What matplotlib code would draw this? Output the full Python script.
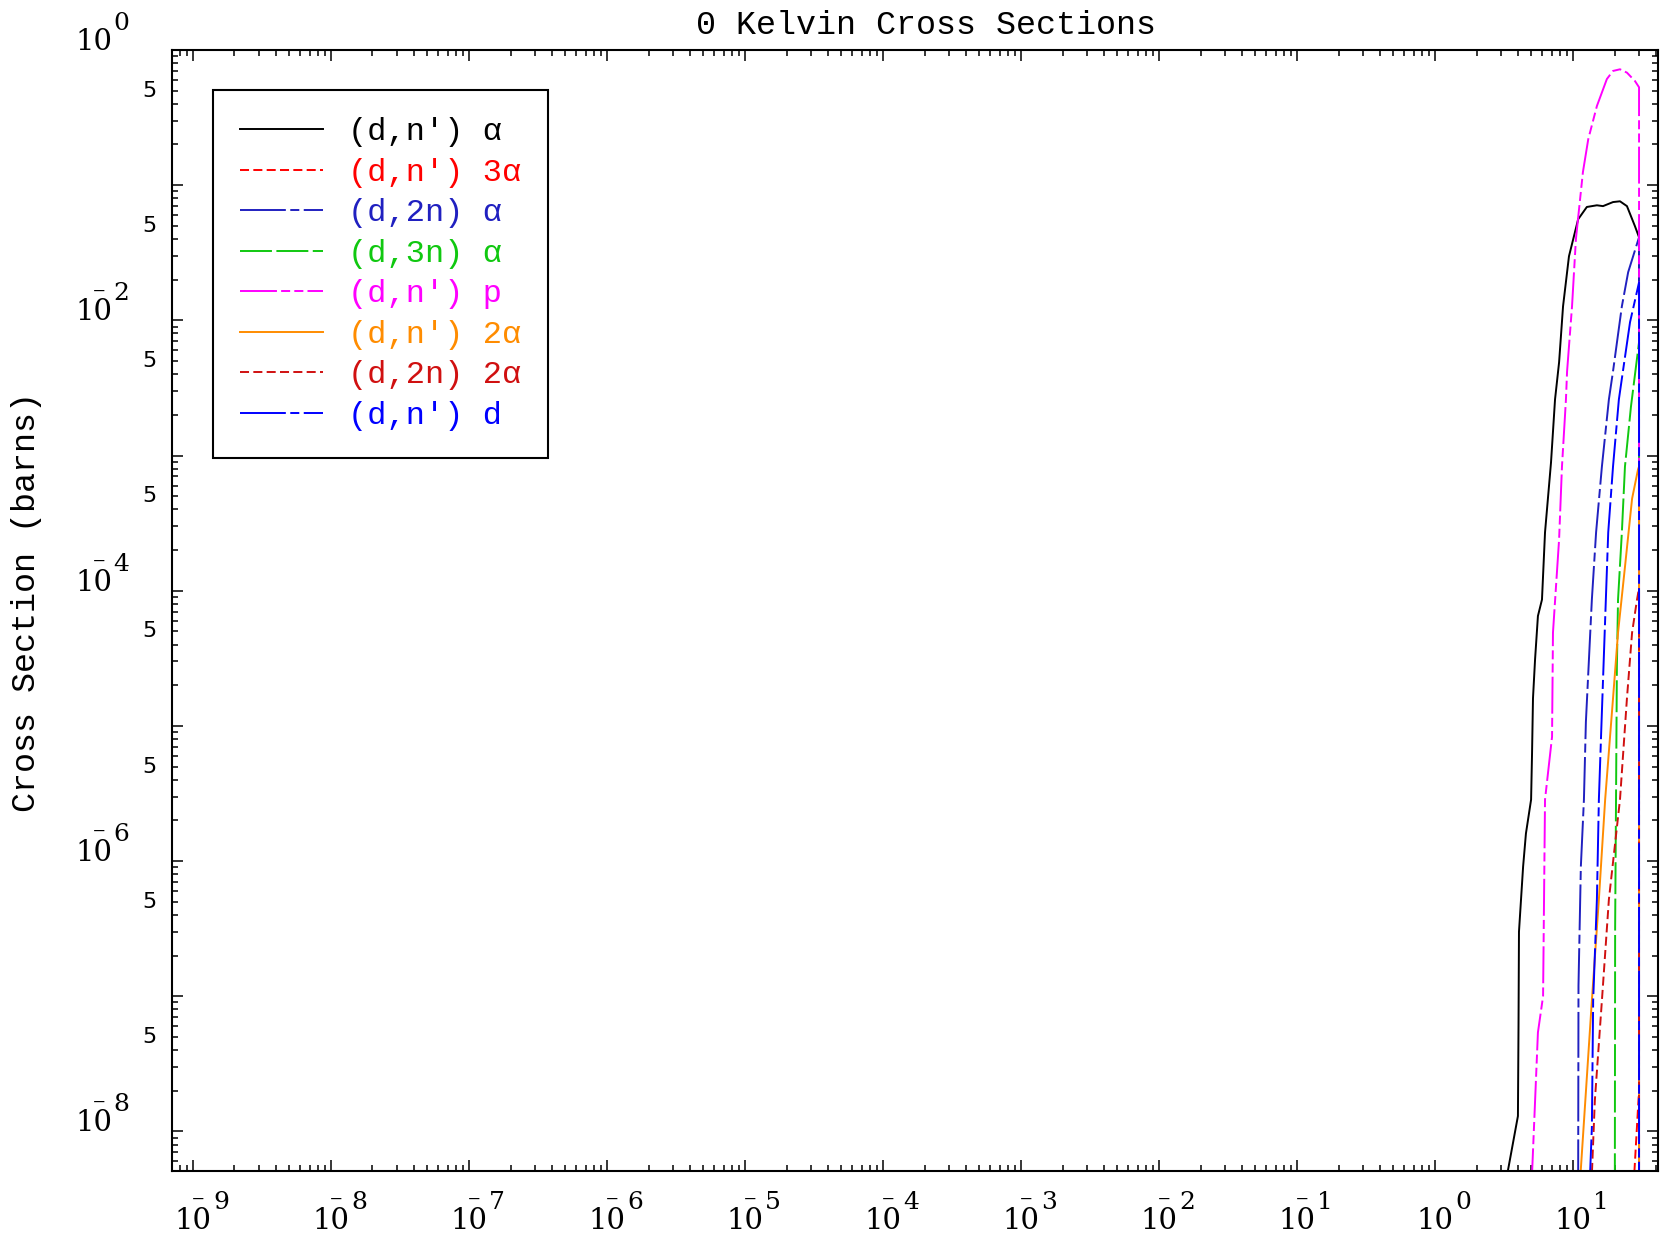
import numpy as np
import matplotlib
matplotlib.use('Agg')
from matplotlib import pyplot as plt
from matplotlib import ticker
from matplotlib.transforms import ScaledTranslation

plt.rcParams['lines.scale_dashes'] = False

# energies in MeV, cross sections in barns (0 = curve drops off at the end)
e_alpha = [3.31, 3.99, 4.03, 4.06, 4.35, 4.56, 4.97, 5.05, 5.13, 5.31, 5.57, 5.96, 6.27,
           6.93, 7.41, 7.93, 8.47, 9.35, 10.9, 12.6, 14.9, 16.5, 19.5, 21.9, 24.6, 28.1, 30.1, 30.1]
xs_alpha = [4.6e-9, 1.3e-8, 6.3e-8, 3.0e-7, 9.1e-7, 1.6e-6, 2.85e-6, 6.3e-6, 1.6e-5, 3.1e-5,
            6.5e-5, 8.6e-5, 2.7e-4, 8.9e-4, 2.6e-3, 4.9e-3, 1.27e-2, 2.98e-2, 5.6e-2, 6.9e-2,
            7.1e-2, 7.0e-2, 7.5e-2, 7.6e-2, 7.0e-2, 4.98e-2, 4.12e-2, 0.0]

e_3alpha = [27.5, 29.6, 30.1, 30.1]
xs_3alpha = [4.0e-9, 1.5e-8, 2.0e-8, 0.0]

e_2n_alpha = [10.9, 10.96, 11.4, 12.0, 12.4, 13.7, 14.7, 16.2, 18.2, 19.5, 22.6, 25.1, 30.1, 30.1]
xs_2n_alpha = [4.0e-9, 1.2e-7, 9.1e-7, 2.85e-6, 1.07e-5, 8.6e-5, 2.7e-4, 8.3e-4, 2.6e-3,
               4.2e-3, 1.27e-2, 2.27e-2, 4.12e-2, 0.0]

e_3n_alpha = [20.1, 20.2, 20.5, 20.8, 21.2, 22.6, 23.8, 26.3, 30.1, 30.1]
xs_3n_alpha = [4.0e-9, 3.2e-7, 2.85e-6, 2.75e-5, 8.6e-5, 2.7e-4, 8.3e-4, 2.3e-3, 6.9e-3, 0.0]

e_p = [5.01, 5.57, 6.07, 6.27, 7.05, 7.16, 7.93, 8.32, 8.89, 9.06, 9.84, 10.5, 11.8, 12.9,
       14.9, 17.6, 19.5, 21.9, 24.6, 28.1, 30.1, 30.1]
xs_p = [4.0e-9, 5.4e-8, 1.0e-7, 2.85e-6, 8.3e-6, 4.9e-5, 2.4e-4, 8.3e-4, 2.6e-3, 4.2e-3,
        1.27e-2, 4.0e-2, 0.125, 0.219, 0.385, 0.61, 0.70, 0.72, 0.68, 0.59, 0.53, 0.0]

e_2alpha = [11.2, 13.7, 15.4, 17.1, 19.5, 21.2, 23.8, 26.8, 29.6, 30.1, 30.1]
xs_2alpha = [4.0e-9, 9.3e-8, 5.2e-7, 2.85e-6, 1.6e-5, 4.9e-5, 1.5e-4, 4.8e-4, 7.9e-4, 8.3e-4, 0.0]

e_2n_2alpha = [13.6, 14.4, 16.2, 18.2, 21.9, 24.6, 26.8, 29.1, 30.1, 30.1]
xs_2n_2alpha = [4.0e-9, 1.7e-8, 9.3e-8, 5.2e-7, 2.85e-6, 1.6e-5, 4.9e-5, 8.6e-5, 1.05e-4, 0.0]

e_d = [13.2, 13.7, 14.0, 14.9, 15.4, 16.0, 17.3, 18.0, 19.5, 21.5, 23.0, 25.9, 30.1, 30.1]
xs_d = [4.0e-9, 1.07e-8, 9.3e-8, 5.2e-7, 2.85e-6, 8.9e-6, 8.6e-5, 2.7e-4, 8.3e-4, 2.6e-3,
        4.2e-3, 9.7e-3, 1.91e-2, 0.0]

labels = ["(d,n') \u03b1", "(d,n') 3\u03b1", "(d,2n) \u03b1", "(d,3n) \u03b1",
          "(d,n') p", "(d,n') 2\u03b1", "(d,2n) 2\u03b1", "(d,n') d"]
colors = ['black', '#ff0000', '#2020c0', '#10c810', '#ff00ff', '#ff8c00', '#d01010', '#0000ff']
dashes = [None, (6.5, 3.1), (33, 3.2, 6.5, 3.2), (23, 3.2), (26.6, 3, 6.5, 3, 6.5, 3),
          None, (6.5, 3.1), (33, 3.2, 6.5, 3.2)]
series = [(e_alpha, xs_alpha), (e_3alpha, xs_3alpha), (e_2n_alpha, xs_2n_alpha),
          (e_3n_alpha, xs_3n_alpha), (e_p, xs_p), (e_2alpha, xs_2alpha),
          (e_2n_2alpha, xs_2n_2alpha), (e_d, xs_d)]

x_decades = list(range(-9, 2))
y_decades = list(range(-8, 1))
YMIN, YMAX = 5.1e-9, 1.0

fig = plt.figure(figsize=(16.63, 12.36), dpi=100)
ax = fig.add_axes([172/1663, 1 - 1171/1236, (1658 - 172)/1663, (1171 - 50)/1236])

for (e, xs), lab, c, d in zip(series, labels, colors, dashes):
    ln, = ax.plot(e, xs, color=c, lw=1.4, label=lab)
    if d is not None:
        ln.set_dashes(d)

ax.set_xscale('log')
ax.set_yscale('log')
ax.set_xlim(7.05e-10, 41.3)
ax.set_ylim(YMIN, YMAX)

ax.xaxis.set_major_locator(ticker.FixedLocator([10.0**k for k in x_decades]))
ax.xaxis.set_minor_locator(ticker.LogLocator(base=10, subs=np.arange(2, 10), numticks=30))
ax.xaxis.set_major_formatter(ticker.FixedFormatter(['10'] * len(x_decades)))
ax.xaxis.set_minor_formatter(ticker.NullFormatter())

ax.yaxis.set_major_locator(ticker.FixedLocator([10.0**k for k in y_decades]))
ax.yaxis.set_minor_locator(ticker.LogLocator(base=10, subs=np.arange(2, 10), numticks=30))
ax.yaxis.set_major_formatter(ticker.FixedFormatter(
    ['10' if k % 2 == 0 else '' for k in y_decades]))


def ymin_fmt(v, p):
    m = v / 10.0**np.floor(np.log10(v) + 1e-9)
    if abs(m - 5) < 0.01 and YMIN <= v <= YMAX:
        return '5'
    return ''


ax.yaxis.set_minor_formatter(ticker.FuncFormatter(ymin_fmt))

ax.tick_params(which='both', direction='in', top=True, right=True, width=1.1)
ax.tick_params(which='major', length=8)
ax.tick_params(which='minor', length=4)
ax.tick_params(axis='x', which='major', labelsize=21, pad=41.8)
ax.tick_params(axis='y', which='major', labelsize=21, pad=69.8)
ax.tick_params(axis='y', which='minor', labelsize=16, pad=11)
for t in ax.xaxis.get_major_ticks():
    t.label1.set_va('baseline')
    t.label1.set_fontfamily('DejaVu Serif')
for t in ax.yaxis.get_major_ticks():
    t.label1.set_va('baseline')
    t.label1.set_ha('left')
    t.label1.set_fontfamily('DejaVu Serif')
for t in ax.yaxis.get_minor_ticks():
    t.label1.set_va('center')
for s in ax.spines.values():
    s.set_linewidth(1.5)


def shift(base, dx, dy):
    return base + ScaledTranslation(dx / 100, dy / 100, fig.dpi_scale_trans)


# IDL-style exponents next to the "10" tick labels
for k in x_decades:
    ax.text(10.0**k, 0, str(abs(k)), transform=shift(ax.get_xaxis_transform(), 20, -38),
            ha='left', va='baseline', family='DejaVu Serif', size=18, clip_on=False)
    if k < 0:
        ax.text(10.0**k, 0, '\u2013', transform=shift(ax.get_xaxis_transform(), 5, -34),
                ha='center', va='baseline', family='DejaVu Serif', size=18, clip_on=False)
for k in y_decades[::2]:
    ax.text(0, 10.0**k, str(abs(k)), transform=shift(ax.get_yaxis_transform(), -59, 20),
            ha='left', va='baseline', family='DejaVu Serif', size=18, clip_on=False)
    if k < 0:
        ax.text(0, 10.0**k, '\u2013', transform=shift(ax.get_yaxis_transform(), -73, 24),
                ha='center', va='baseline', family='DejaVu Serif', size=18, clip_on=False)

leg = ax.legend(loc='upper left', bbox_to_anchor=(213/1663, 1 - 90/1236),
                bbox_transform=fig.transFigure, borderaxespad=0,
                prop={'family': 'Liberation Mono', 'size': 23},
                handlelength=2.6, handletextpad=0.77, labelspacing=0.33,
                borderpad=0.85, fancybox=False, framealpha=1, edgecolor='black')
leg.get_frame().set_linewidth(1.5)
for txt, c in zip(leg.get_texts(), colors):
    txt.set_color(c)

fig.text(926/1663, 1 - 25/1236, '0 Kelvin Cross Sections', ha='center', va='center',
         family='Liberation Mono', size=24)
fig.text(27/1663, 1 - 602/1236, 'Cross Section (barns)', rotation=90, ha='center',
         va='center', family='Liberation Mono', size=24)

fig.savefig('out.png', dpi=100)
